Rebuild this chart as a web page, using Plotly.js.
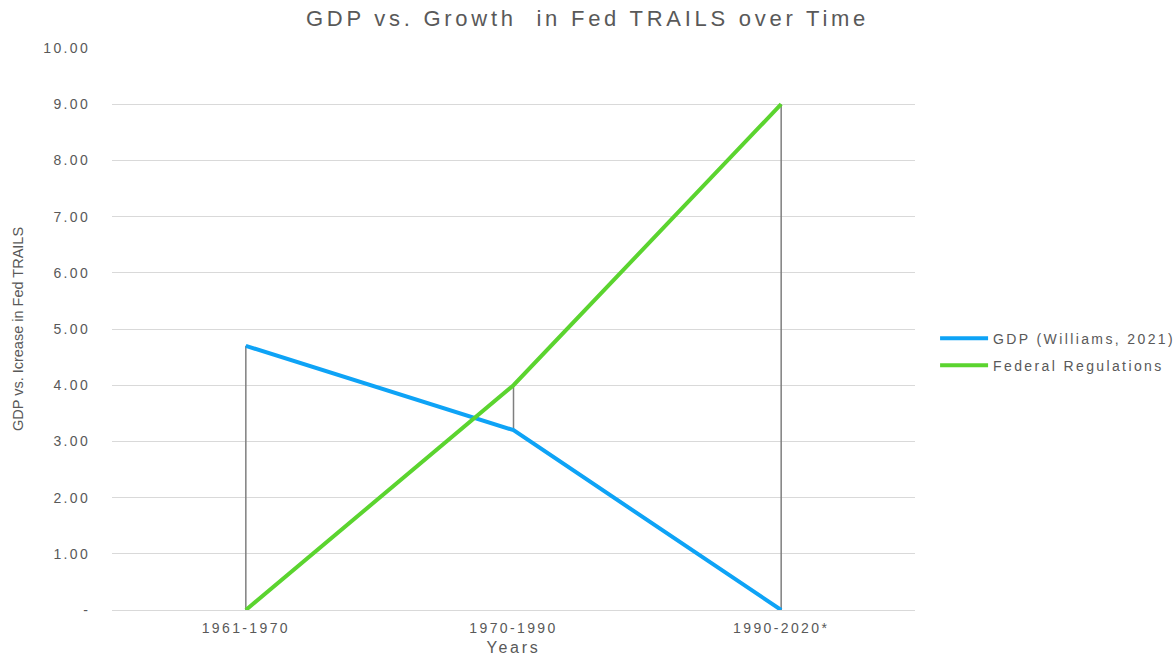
<!DOCTYPE html>
<html>
<head>
<meta charset="utf-8">
<script src="https://cdn.plot.ly/plotly-3.0.1.min.js"></script>
<style>
html,body{margin:0;padding:0;background:#fff;}
#chart{width:1175px;height:656px;}
svg text{letter-spacing:0.17em;}
svg text.ytitle{letter-spacing:0;}
</style>
</head>
<body>
<div id="chart"></div>
<script>
const categories = ["1961-1970", "1970-1990", "1990-2020*"];
const gdpValues = [4.7, 3.2, 0];
const regValues = [0, 4.0, 9.0];
const yTickVals = [0, 1, 2, 3, 4, 5, 6, 7, 8, 9, 10];
const yTickText = ["-", "1.00", "2.00", "3.00", "4.00", "5.00", "6.00", "7.00", "8.00", "9.00", "10.00"];

// high-low drop lines built from the two series
const dropX = [], dropY = [];
categories.forEach((c, i) => {
  dropX.push(c, c, null);
  dropY.push(Math.min(gdpValues[i], regValues[i]), Math.max(gdpValues[i], regValues[i]), null);
});

const fontFam = "Liberation Sans, Arial, Helvetica, sans-serif";
const grey = "#595959";

const traces = [
  {x: dropX, y: dropY, type: "scatter", mode: "lines", line: {color: "#7f7f7f", width: 1.5}, showlegend: false, hoverinfo: "skip"},
  {x: categories, y: gdpValues, type: "scatter", mode: "lines", name: "GDP (Williams, 2021)", legendgroup: "a", line: {color: "#0ea3f6", width: 4}},
  {x: categories, y: regValues, type: "scatter", mode: "lines", name: "Federal Regulations", legendgroup: "b", line: {color: "#5bd42f", width: 4}}
];

const layout = {
  width: 1175, height: 656,
  margin: {l: 112, r: 260, t: 48, b: 46, autoexpand: false},
  paper_bgcolor: "#fff", plot_bgcolor: "#fff",
  font: {family: fontFam, color: grey, size: 14},
  title: {text: "GDP vs. Growth  in Fed TRAILS over Time", font: {size: 22, color: grey, family: fontFam}, x: 0.5, xref: "container", y: 0.972, yref: "container", yanchor: "middle"},
  xaxis: {
    type: "category", range: [-0.5, 2.5], showgrid: false, zeroline: false,
    showline: false, ticks: "outside", ticklen: 5, tickcolor: "rgba(0,0,0,0)",
    tickfont: {size: 14, color: grey},
    title: {text: "Years", font: {size: 16, color: grey}, standoff: 8}
  },
  yaxis: {
    range: [0, 10], tickvals: yTickVals, ticktext: yTickText,
    showgrid: true, gridcolor: "#d9d9d9", gridwidth: 1,
    zeroline: true, zerolinecolor: "#d9d9d9", zerolinewidth: 1,
    showline: false, ticks: "outside", ticklen: 18, tickcolor: "rgba(0,0,0,0)",
    tickfont: {size: 14, color: grey},
    title: {text: "GDP vs. Icrease in Fed TRAILS", font: {size: 14.5, color: grey}, standoff: 16}
  },
  legend: {x: 1.025, xanchor: "left", y: 0.459, yanchor: "middle", traceorder: "grouped", font: {size: 14, color: grey}, itemwidth: 48, tracegroupgap: 6, bgcolor: "rgba(0,0,0,0)"},
  showlegend: true
};

Plotly.newPlot("chart", traces, layout, {displayModeBar: false, staticPlot: true});
</script>
</body>
</html>
